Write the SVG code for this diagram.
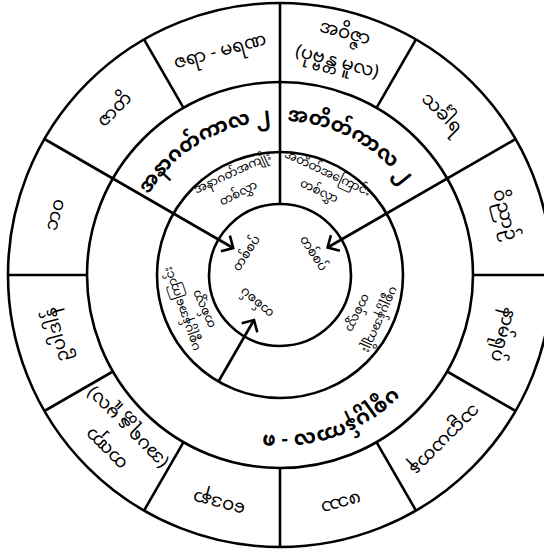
<svg xmlns="http://www.w3.org/2000/svg" width="544" height="550" viewBox="0 0 544 550">
<style>
.c{fill:none;stroke:#000;stroke-width:2.6}
.l{stroke:#000;stroke-width:2.6;fill:none}
text{font-family:'Noto Sans Myanmar','Padauk','Myanmar Text','Noto Sans',sans-serif;fill:#000;text-anchor:middle;dominant-baseline:central}
.o{font-size:18px}
.m{font-size:20px;font-weight:bold;dominant-baseline:auto}
.i{font-size:12px}
.s{font-size:12.5px}
</style>
<defs>
<marker id="ah" markerWidth="20" markerHeight="20" refX="10" refY="10" orient="auto" markerUnits="userSpaceOnUse"><path d="M1,1 L10,10 L1,19" fill="none" stroke="#000" stroke-width="2.6"/></marker>
<path id="pastArc" d="M274.7,121.1 A154,154 0 0 1 419.6,209.9"/>
<path id="futArc" d="M135.3,222.3 A154,154 0 0 1 293.4,121.6"/>
<path id="presArc" d="M430.4,329.7 A160,160 0 0 1 177.2,397.6"/>
</defs>
<g id="rings">
<circle class="c" cx="280" cy="275" r="272" stroke-width="3"/>
<circle class="c" cx="280" cy="275" r="193"/>
<circle class="c" cx="280" cy="275" r="123"/>
<circle class="c" cx="280" cy="275" r="71"/>
</g>
<g id="connectors">
<line class="l" x1="280" y1="3" x2="280" y2="204"/>
<line class="l" x1="473" y1="275" x2="552" y2="275"/>
<line class="l" x1="376.5" y1="107.9" x2="416" y2="39.4"/>
<line class="l" x1="183.5" y1="107.9" x2="144" y2="39.4"/>
<line class="l" x1="87" y1="275" x2="8" y2="275"/>
<line class="l" x1="112.9" y1="371.5" x2="44.4" y2="411"/>
<line class="l" x1="280" y1="468" x2="280" y2="547"/>
<line class="l" x1="376.5" y1="442.1" x2="416" y2="510.6"/>
<line class="l" x1="447.1" y1="371.5" x2="515.6" y2="411"/>
<line class="l" x1="183.5" y1="442.1" x2="144" y2="510.6"/>
<line class="l" x1="44.4" y1="139" x2="233.2" y2="248" marker-end="url(#ah)"/>
<line class="l" x1="515.6" y1="139" x2="327.6" y2="247.5" marker-end="url(#ah)"/>
<line class="l" x1="218.5" y1="381.5" x2="254" y2="320" marker-end="url(#ah)"/>
</g>
<g id="outer-labels">
<g id="n-jaramarana"><text class="o" transform="rotate(-15 280 275)" x="280" y="44">ဇရာ - မရဏ</text></g>
<g id="n-avijja"><text class="o" transform="rotate(15 280 275)" x="280" y="25">အဝိဇ္ဇာ</text><text class="o" transform="rotate(15 280 275)" x="280" y="55">(ပုဗ္ဗန္တ မူလ)</text></g>
<g id="n-sankhara"><text class="o" transform="rotate(45 280 275)" x="280" y="47">သင်္ခါရ</text></g>
<g id="n-vinnana"><text class="o" transform="rotate(75 280 275)" x="280" y="43">ဝိညာဉ်</text></g>
<g id="n-namarupa"><text class="o" transform="rotate(105 280 275)" x="280" y="45">နာမ်ရုပ်</text></g>
<g id="n-salayatana"><text class="o" transform="rotate(135 280 275)" x="280" y="43">သဠာယတန</text></g>
<g id="n-phassa"><text class="o" transform="rotate(165 280 275)" x="280" y="40">ဖဿ</text></g>
<g id="n-vedana"><text class="o" transform="rotate(195 280 275)" x="280" y="40">ဝေဒနာ</text></g>
<g id="n-tanha"><text class="o" transform="rotate(225 280 275)" x="280" y="30">တဏှာ</text><text class="o" transform="rotate(225 280 275)" x="280" y="60">(အပရန္တ မူလ)</text></g>
<g id="n-upadana"><text class="o" transform="rotate(255 280 275)" x="280" y="45">ဥပါဒါန်</text></g>
<g id="n-bhava"><text class="o" transform="rotate(285 280 275)" x="280" y="43">ဘဝ</text></g>
<g id="n-jati"><text class="o" transform="rotate(315 280 275)" x="280" y="42">ဇာတိ</text></g>
</g>
<g id="period-labels">
<g id="n-past"><text class="m"><textPath href="#pastArc" startOffset="45%">အတိတ်ကာလ  ၂</textPath></text></g>
<g id="n-future"><text class="m"><textPath href="#futArc" startOffset="52%">အနာဂတ်ကာလ  ၂</textPath></text></g>
<g id="n-present"><text class="m"><textPath href="#presArc" startOffset="46%">ပစ္စုပ္ပန်ကာလ - ၈</textPath></text></g>
</g>
<g id="group-labels">
<g id="n-pastcause"><text class="i" transform="rotate(25 280 275)" x="280" y="163">အတိတ်အကြောင်း</text><text class="i" transform="rotate(25 280 275)" x="280" y="183">တစ်လွှာ</text></g>
<g id="n-futresult"><text class="i" transform="rotate(-25 280 275)" x="280" y="163">အနာဂတ်အကျိုး</text><text class="i" transform="rotate(-27 280 275)" x="280" y="184">တစ်လွှာ</text></g>
<g id="n-presresult"><text class="i" transform="rotate(114 280 275)" x="280" y="166">ပစ္စုပ္ပန်အကျိုး</text><text class="i" transform="rotate(116 280 275)" x="280" y="189">တစ်လွှာ</text></g>
<g id="n-prescause"><text class="i" transform="rotate(-109 280 275)" x="280" y="172">ပစ္စုပ္ပန်အကြောင်း</text><text class="i" transform="rotate(-114 280 275)" x="280" y="192">တစ်လွှာ</text></g>
</g>
<g id="junction-labels">
<g id="n-j1"><text class="s" transform="rotate(-57 280 275)" x="280" y="236">တစ်စပ်</text></g>
<g id="n-j2"><text class="s" transform="rotate(57 280 275)" x="280" y="236">တစ်စပ်</text></g>
<g id="n-j3"><text class="s" transform="rotate(-140 280 275)" x="280" y="240">တစ်စပ်</text></g>
</g>
</svg>
